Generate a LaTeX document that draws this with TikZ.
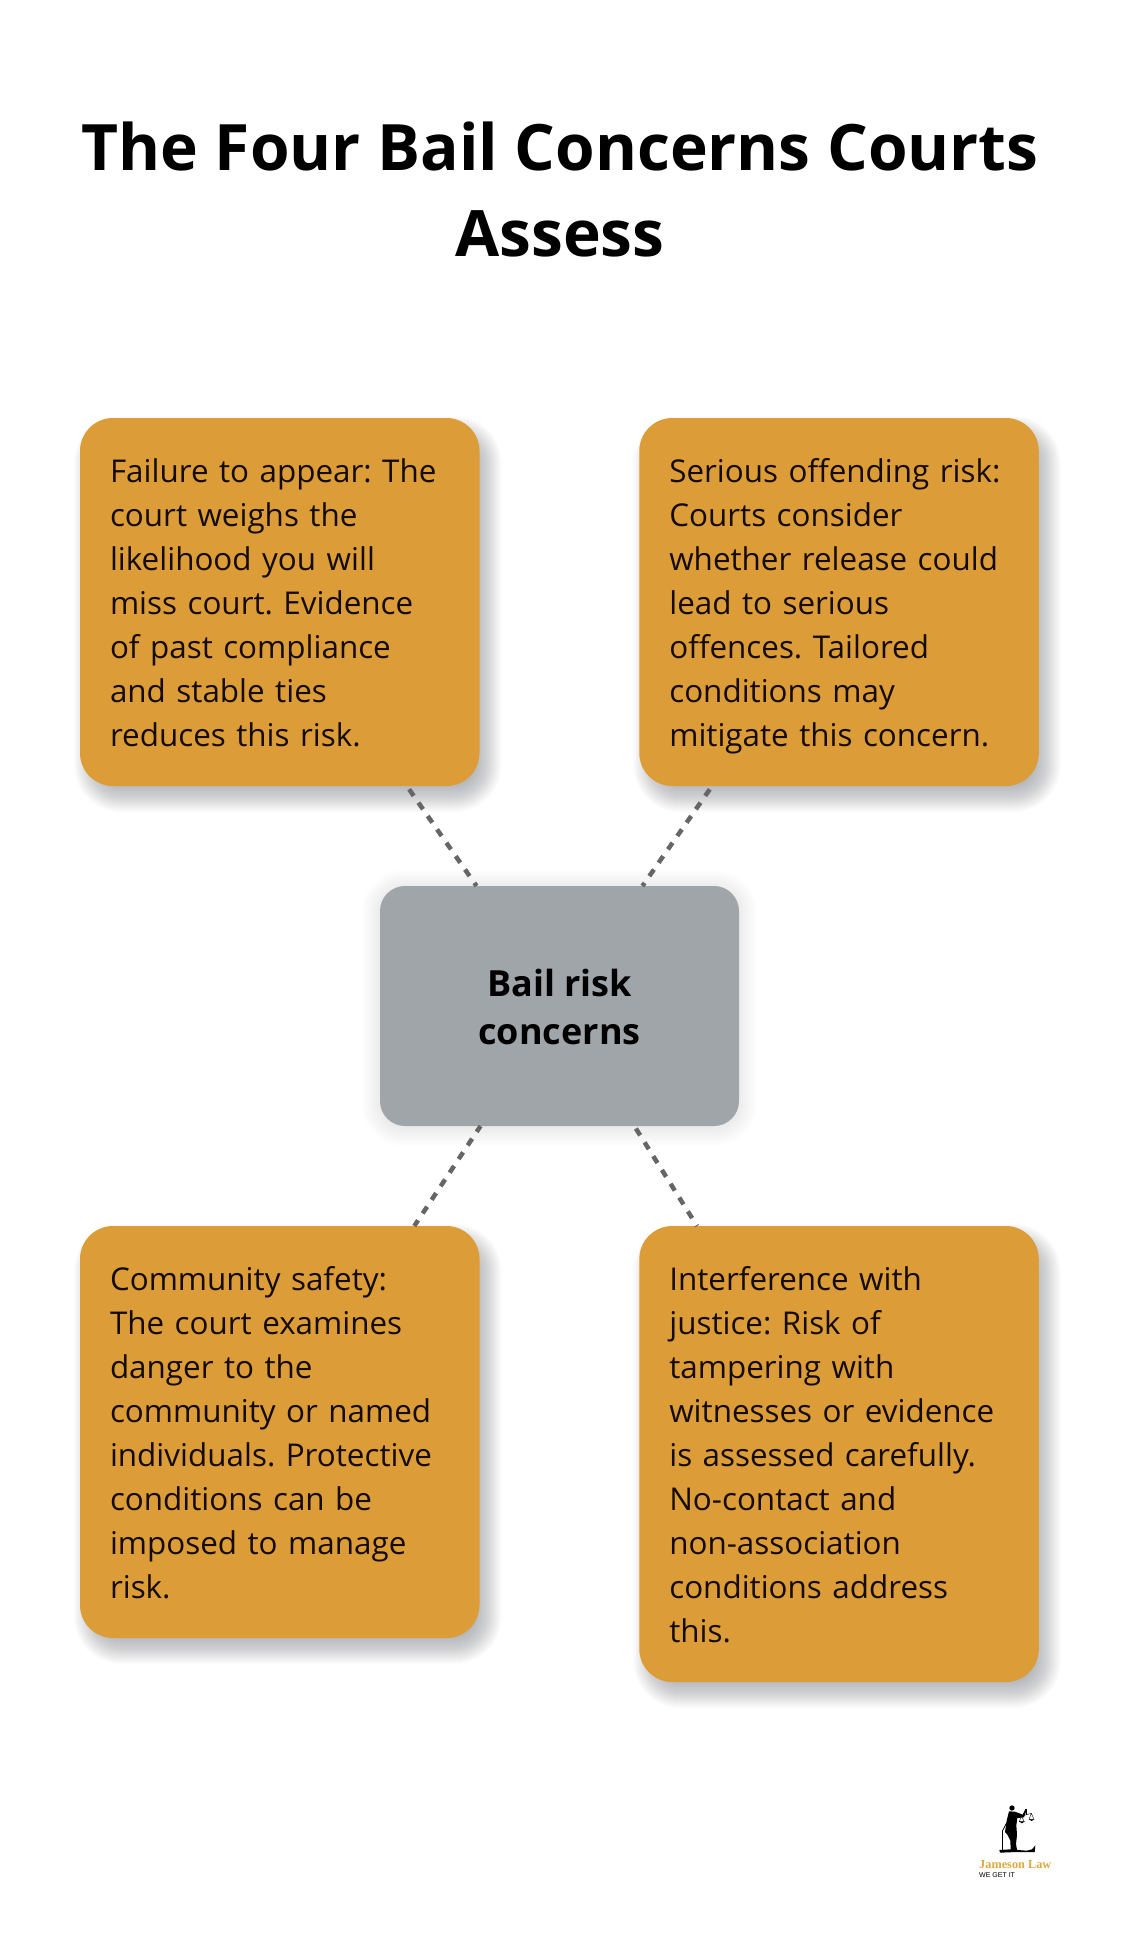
\documentclass[tikz,border=0pt]{standalone}
\usepackage{fontspec}
\setmainfont{Open Sans}
\newfontfamily\logoserif{Liberation Serif}
\newfontfamily\logosans{Liberation Sans}
\definecolor{boxorange}{HTML}{DC9C37}
\definecolor{boxgrey}{HTML}{A0A5AA}
\definecolor{dashgrey}{HTML}{666666}
\definecolor{shadowtone}{HTML}{666C76}
\definecolor{logogold}{HTML}{DDA93F}
\definecolor{inktext}{HTML}{140C04}
\newcommand{\softshadow}[7]{% x1 y1 x2 y2 dx dy radius
  \foreach \k in {0,1,...,27}{
    \pgfmathsetmacro{\grow}{14-\k}
    \pgfmathsetmacro{\rr}{max(#7+\grow,2)}
    \fill[shadowtone,fill opacity=0.02,rounded corners=\rr pt]
      ({#1+#5-\grow},{#2+#6-\grow}) rectangle ({#3+#5+\grow},{#4+#6+\grow});
  }
}
\newcommand{\softglow}[4]{% x1 y1 x2 y2
  \foreach \k in {0,1,...,9}{
    \pgfmathsetmacro{\grow}{18-2*\k}
    \pgfmathsetmacro{\rr}{25+\grow}
    \fill[shadowtone,fill opacity=0.012,rounded corners=\rr pt]
      ({#1-\grow},{#2-\grow+2}) rectangle ({#3+\grow},{#4+\grow+2});
  }
}
\newcommand{\firstline}{\rule{0pt}{33pt}}
\newcommand{\lastline}{\rule[-9pt]{0pt}{9pt}}
\tikzset{
  concern/.style={fill=boxorange,rounded corners=33pt,minimum width=399.5pt,
    text width=339.5pt,inner xsep=30pt,inner ysep=0pt,outer sep=0pt,align=left,
    text=inktext,font=\fontsize{31.4}{44}\selectfont\frenchspacing},
  hub/.style={fill=boxgrey,rounded corners=25pt,minimum width=359pt,minimum height=240pt,
    inner sep=0pt,outer sep=0pt,align=center,text=black,
    font=\fontsize{36}{48}\selectfont\bfseries},
  heading/.style={align=center,inner sep=0pt,text=black,
    font=\fontsize{64}{86}\selectfont\bfseries},
  spoke/.style={dashgrey,line width=4.5pt,dash pattern=on 8pt off 8.3pt},
  logoink/.style={fill=black,draw=none}
}
\begin{document}
\begin{tikzpicture}[x=1pt,y=-1pt]
\useasboundingbox (0,0) rectangle (1120,1942);
\fill[white] (0,0) rectangle (1120,1942);
% shadows
\softshadow{80}{418}{479.5}{786}{8}{12}{33}
\softshadow{639.3}{418}{1038.8}{786}{8}{12}{33}
\softshadow{80}{1226}{479.5}{1638}{8}{12}{33}
\softshadow{639.3}{1226}{1038.8}{1682}{8}{12}{33}
\softglow{380}{886}{739}{1126}
% title
\node[heading] (title) at (560,192) {\rule{0pt}{64pt}The Four Bail Concerns Courts\\Assess\rule[-20pt]{0pt}{20pt}};
% boxes
\node[concern,minimum height=368pt] (fail) at (279.75,602) {\firstline Failure to appear: The\\court weighs the\\likelihood you will\\miss court. Evidence\\of past compliance\\and stable ties\\reduces this risk.\lastline};
\node[concern,minimum height=368pt] (serious) at (839.05,602) {\firstline Serious offending risk:\\Courts consider\\whether release could\\lead to serious\\offences. Tailored\\conditions may\\mitigate this concern.\lastline};
\node[concern,minimum height=412pt] (safety) at (279.75,1432) {\firstline Community safety:\\The court examines\\danger to the\\community or named\\individuals. Protective\\conditions can be\\imposed to manage\\risk.\lastline};
\node[concern,minimum height=456pt] (justice) at (839.05,1454) {\firstline Interference with\\justice: Risk of\\tampering with\\witnesses or evidence\\is assessed carefully.\\No-contact and\\non-association\\conditions address\\this.\lastline};
\node[hub] (hubnode) at (559.5,1006) {\rule{0pt}{35pt}Bail risk\\concerns\rule[-7pt]{0pt}{7pt}};
% connectors
\draw[spoke,dash phase=12.3pt] (fail) -- (hubnode);
\draw[spoke,dash phase=12.3pt] (serious) -- (hubnode);
\draw[spoke,dash phase=1pt] (hubnode) -- (safety);
\draw[spoke,dash phase=13.3pt] (hubnode) -- (justice);
% logo
\begin{scope}[shift={(990,1800)},x=0.3333pt,y=-0.3333pt]
  \fill[logoink] (66,24) circle (8);
  \fill[logoink] (57,34) -- (75,35) -- (98,44) -- (106,27) -- (110,29) -- (102,52)
    -- (82,54) -- (79,76) -- (81,105) -- (78,132) -- (81,150) -- (62,150) -- (61,122)
    -- (52,104) -- (45,96) -- (50,62) -- cycle;
  \draw[black,line width=0.8pt] (50,68) -- (39,90);
  \draw[black,line width=0.8pt] (38,90) -- (38,152);
  \fill[logoink] (28,150) -- (60,148) -- (110,152) -- (126,148) -- (136,136) -- (134,156)
    -- (80,156) -- (30,158) -- cycle;
  \draw[black,line width=0.4pt] (108,27) -- (108,46);
  \draw[black,line width=0.4pt] (94,48) -- (124,40);
  \draw[black,line width=0.4pt] (94,48) -- (88,65) -- (103,65) -- cycle;
  \draw[black,line width=0.4pt] (124,40) -- (117,58) -- (132,58) -- cycle;
  \fill[logoink] (88,65) -- (103,65) -- (96,70) -- cycle;
  \fill[logoink] (117,58) -- (132,58) -- (125,63) -- cycle;
\end{scope}
\node[anchor=base west,inner sep=0pt,text=logogold,font=\logoserif\bfseries\fontsize{12.3}{14}\selectfont] (firm) at (979,1868) {Jameson Law};
\node[anchor=base west,inner sep=0pt,text=black,font=\logosans\fontsize{7}{8}\selectfont] (motto) at (979,1877) {WE GET IT};
\end{tikzpicture}
\end{document}
